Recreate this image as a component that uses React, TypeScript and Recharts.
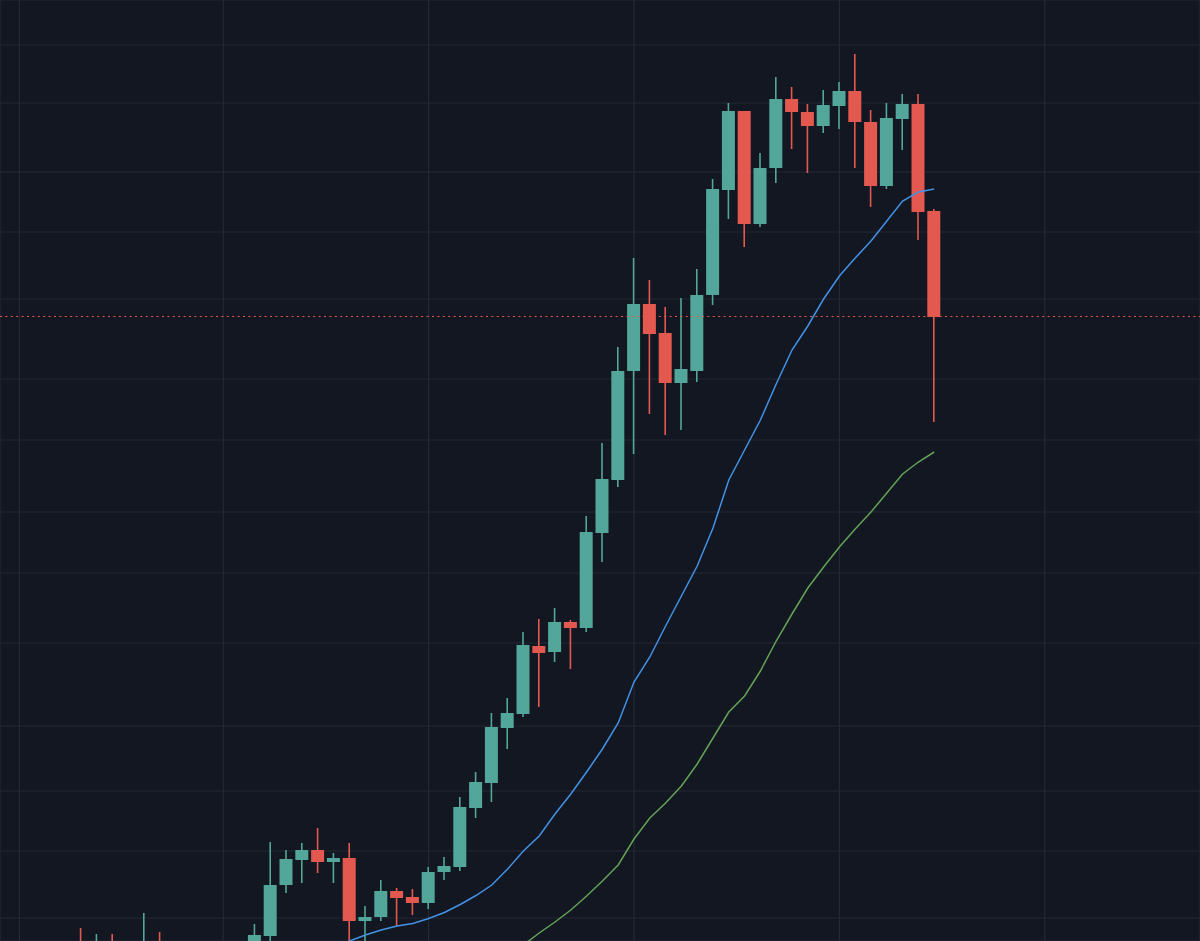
import React from "react";
import { ComposedChart, Bar, Line, XAxis, YAxis, CartesianGrid, ReferenceLine } from "recharts";

// weekly candles, index 0 is the leftmost one in view (values in chart points)
const opens = [
  -3, -14, -3, -19, -14, -3, -17, -29, -21, -27, -14, -7, 5, 56, 81, 91, 79, 83, 20, 24,
  50, 44, 38, 69, 74, 133, 158, 213, 227, 295, 289, 319, 313, 408, 461, 570, 637, 608, 558, 570,
  646, 751, 830, 717, 773, 842, 829, 815, 835, 850, 819, 755, 822, 837, 730,
];
const highs = [
  13, 7, 7, -4, 28, 9, -7, -14, -11, -6, -3, 17, 99, 91, 98, 113, 88, 98, 35, 61,
  53, 52, 74, 84, 144, 169, 228, 243, 309, 322, 333, 321, 425, 498, 594, 683, 661, 634, 643, 672,
  762, 838, 830, 788, 864, 854, 837, 851, 859, 887, 831, 838, 847, 847, 732,
];
const lows = [
  -19, -19, -21, -24, -19, -24, -37, -39, -34, -31, -19, -11, -4, 48, 58, 68, 58, -7, -9, 20,
  15, 26, 32, 61, 70, 123, 139, 192, 224, 234, 279, 272, 309, 379, 454, 487, 527, 506, 511, 559,
  636, 722, 694, 714, 758, 792, 768, 808, 812, 773, 734, 752, 791, 701, 519,
];
const closes = [
  -11, -4, -14, -9, -2, -17, -29, -21, -27, -14, -7, 6, 56, 82, 91, 79, 83, 20, 24, 50,
  43, 38, 69, 75, 134, 159, 214, 228, 296, 288, 319, 313, 409, 462, 570, 637, 607, 558, 572, 646,
  752, 830, 717, 773, 842, 829, 815, 836, 850, 819, 755, 823, 837, 729, 624,
];
const maFast = [
  null, null, null, null, null, null, null, null, null, null, null, null, null, null, -18, -12, -6, 0, 6, 11,
  15, 17.5, 22.5, 28.5, 36.5, 45.5, 56, 72, 90, 105, 127, 147, 169, 192, 218, 259, 284, 315, 345, 375,
  413, 461, 491, 521, 557, 591, 615, 642, 665, 683, 700, 720, 740, 749, 752,
];
const maSlow = [
  null, null, null, null, null, null, null, null, null, null, null, null, null, null, null, null, null, null, null, null,
  null, null, null, null, null, null, -20, -10, -4, 8, 19, 31, 45, 60, 76, 102, 123, 138, 155, 177,
  203, 229, 245, 270, 300, 327, 353, 374, 394, 412, 429, 448, 467, 479, 489,
];
const lastPrice = 624.5;
const gridPrices = [23, 90, 150, 215, 298, 368, 429, 501, 562, 642, 709, 769, 838, 896];
const gridWeeks = [-3.9, 9, 22, 35, 48, 61];

const UP = "#52a69a";
const DOWN = "#e4594f";

const data = opens.map((open, i) => ({
  i,
  open,
  high: highs[i],
  low: lows[i],
  close: closes[i],
  range: [lows[i], highs[i]],
  fast: maFast[i],
  slow: maSlow[i],
}));

function Candle(props: any) {
  const { x, y, width, height, payload } = props;
  const { open, close, high, low } = payload;
  const color = close >= open ? UP : DOWN;
  const yTop = Math.min(y, y + height);
  const span = Math.abs(height);
  const toPx = (v: number) => yTop + ((high - v) / (high - low)) * span;
  const bodyTop = toPx(Math.max(open, close));
  const bodyBottom = toPx(Math.min(open, close));
  const cx = x + width / 2;
  return (
    <g>
      <line x1={cx} x2={cx} y1={yTop} y2={yTop + span} stroke={color} strokeWidth={1.6} />
      <rect x={x} y={bodyTop} width={width} height={Math.max(1.5, bodyBottom - bodyTop)} fill={color} />
    </g>
  );
}

export default function App() {
  return (
    <div style={{ position: "fixed", left: 0, top: 0, width: 1200, height: 941, background: "#131722" }}>
      <ComposedChart width={1200} height={941} data={data} margin={{ top: 0, right: 0, bottom: 0, left: 0 }}>
        <CartesianGrid stroke="#252934" strokeWidth={1.2} />
        <XAxis
          dataKey="i"
          type="number"
          domain={[-81 / 15.8, (1200 - 81) / 15.8]}
          ticks={gridWeeks}
          allowDataOverflow
          hide
        />
        <YAxis type="number" domain={[0, 941]} ticks={gridPrices} allowDataOverflow hide />
        <ReferenceLine y={lastPrice} stroke={DOWN} strokeDasharray="2 3.4" strokeWidth={1} />
        <Line dataKey="slow" stroke="#63a356" strokeWidth={1.5} dot={false} type="linear" isAnimationActive={false} connectNulls={false} />
        <Line dataKey="fast" stroke="#4392e6" strokeWidth={1.5} dot={false} type="linear" isAnimationActive={false} connectNulls={false} />
        <Bar dataKey="range" barSize={13} shape={<Candle />} isAnimationActive={false} />
      </ComposedChart>
    </div>
  );
}
